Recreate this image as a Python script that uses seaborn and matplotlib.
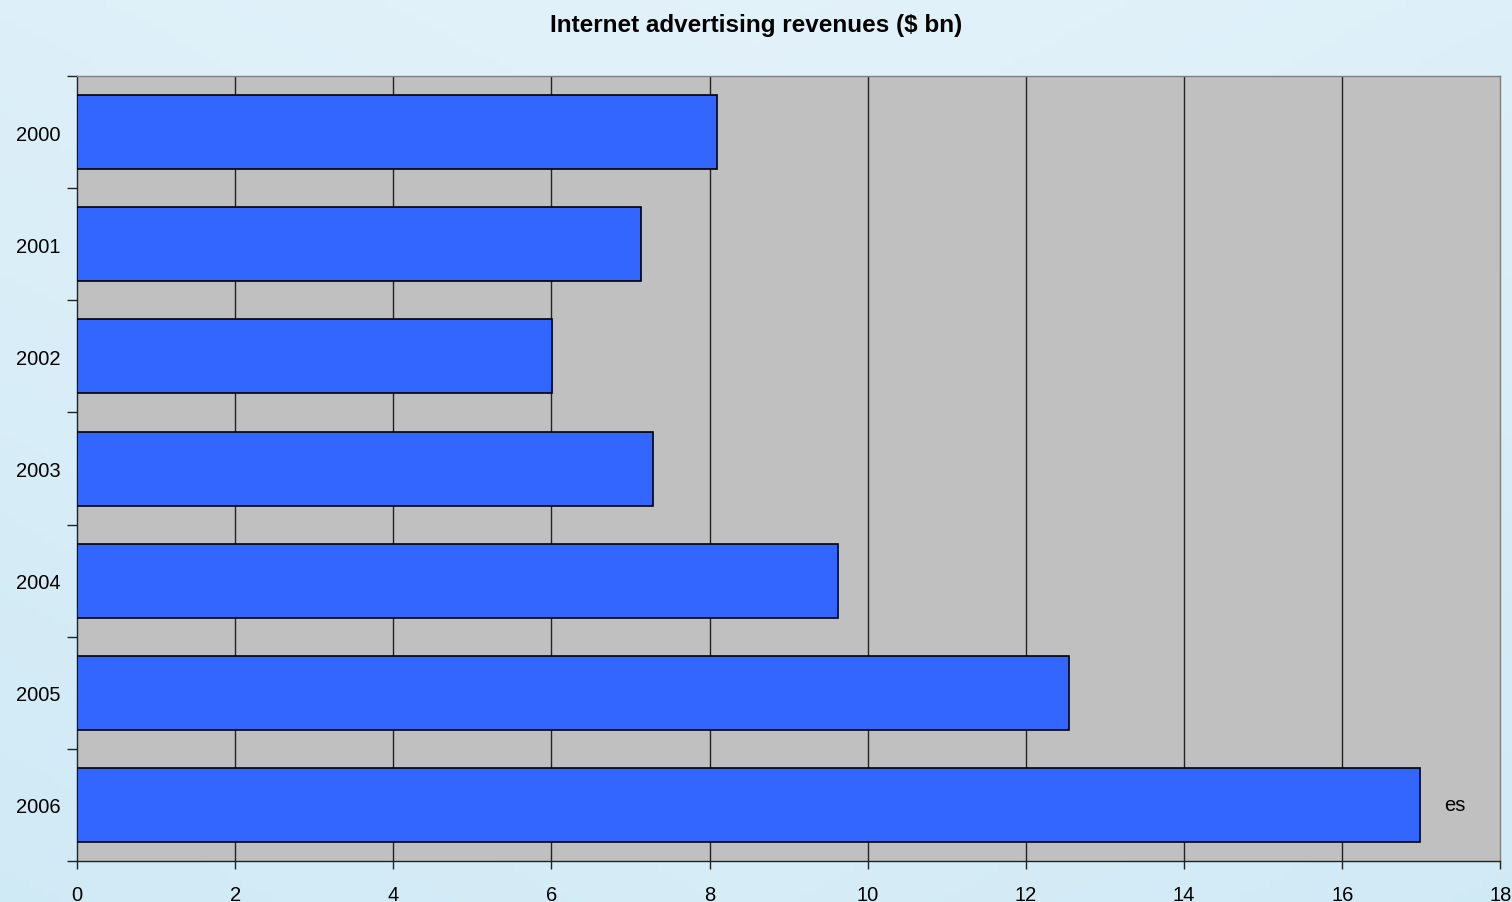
import numpy as np
import pandas as pd
import matplotlib
matplotlib.use("Agg")
import matplotlib.pyplot as plt
import seaborn as sns

years = ["2000", "2001", "2002", "2003", "2004", "2005", "2006"]
revenues = [8.1, 7.13, 6.01, 7.28, 9.63, 12.55, 16.98]
x_ticks = [0, 2, 4, 6, 8, 10, 12, 14, 16, 18]
note = "es"

df = pd.DataFrame({"Year": years, "Revenue": revenues})

sns.set_style("white")
plt.rcParams["font.family"] = ["Liberation Sans", "DejaVu Sans"]
plt.rcParams["text.color"] = "black"
plt.rcParams["xtick.color"] = "black"
plt.rcParams["ytick.color"] = "black"

fig = plt.figure(figsize=(15.12, 9.03), dpi=100)

# light blue gradient background
bg = fig.add_axes([0, 0, 1, 1], zorder=-10)
gx = np.linspace(0, 1, 200)
gy = np.linspace(0, 1, 120)
X, Y = np.meshgrid(gx, gy)
t = np.clip(0.55 * Y + 0.25 * (1 - np.abs(X - 0.5) * 2) + 0.2, 0, 1)
c0 = np.array([0.80, 0.91, 0.96])
c1 = np.array([0.89, 0.95, 0.98])
img = c0[None, None, :] * (1 - t[..., None]) + c1[None, None, :] * t[..., None]
bg.imshow(img, aspect="auto", extent=[0, 1, 0, 1], origin="lower")
bg.axis("off")

ax = fig.add_axes([0.0509, 0.0454, 0.9414, 0.8693])
ax.set_facecolor("#C0C0C0")
sns.barplot(data=df, x="Revenue", y="Year", orient="h", color="#3366FF",
            edgecolor="black", linewidth=1.2, width=0.66, saturation=1, ax=ax, zorder=3)

ax.set_xlim(0, 18)
ax.set_ylim(6.5, -0.5)
ax.set_xticks(x_ticks)
ax.set_xticklabels([str(v) for v in x_ticks], fontsize=14.5)
ax.tick_params(axis="x", direction="out", length=6, width=1, color="#222222",
               labelcolor="black", pad=11, bottom=True)
ax.set_yticks(range(len(years)))
ax.set_yticklabels(years, fontsize=14.5)
ax.tick_params(axis="y", which="major", length=0, pad=12, labelcolor="black")
ax.set_yticks(np.arange(-0.5, len(years), 1), minor=True)
ax.tick_params(axis="y", which="minor", direction="out", length=7, width=1, color="#222222", left=True)

for v in x_ticks[1:-1]:
    ax.axvline(v, color="#222222", linewidth=1, zorder=1)

ax.set_xlabel("")
ax.set_ylabel("")
for side, sp in ax.spines.items():
    sp.set_visible(True)
    sp.set_linewidth(1)
    sp.set_color("#222222" if side in ("left", "bottom") else "#808080")

ax.text(17.43, 6, note, fontsize=14.5, ha="center", va="center", color="black", zorder=4)

fig.text(0.5, 0.972, "Internet advertising revenues ($ bn)", fontsize=17.5,
         fontweight="bold", ha="center", va="center", color="black")

fig.savefig("out.png", dpi=100)
